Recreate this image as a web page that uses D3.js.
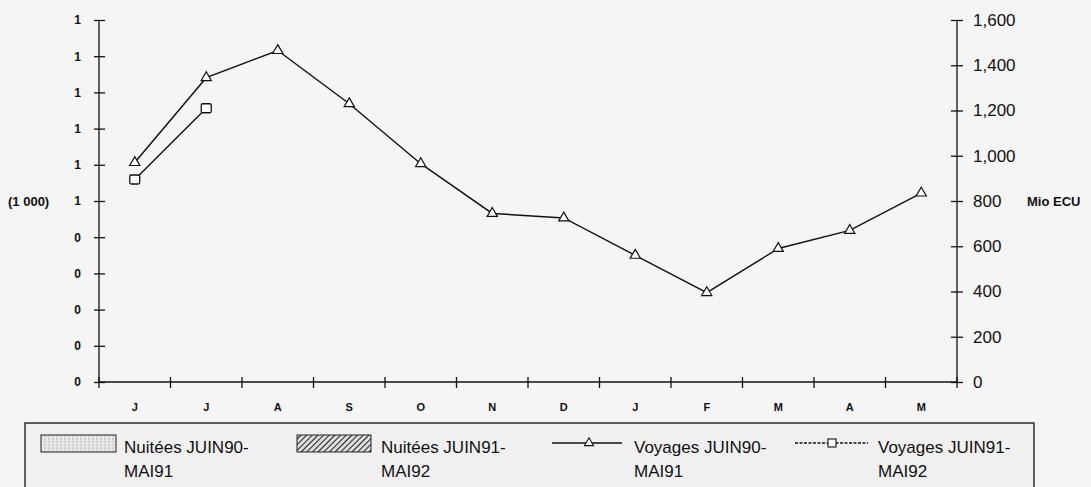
<!DOCTYPE html>
<html>
<head>
<meta charset="utf-8">
<script src="https://cdn.jsdelivr.net/npm/d3@7"></script>
<style>
  body { margin: 0; background: #f5f5f5; }
  svg { display: block; font-family: "Liberation Sans", Arial, sans-serif; }
  .axis path, .axis line { stroke: #111; stroke-width: 1.3; }
  .small { font-weight: bold; fill: #111; }
</style>
</head>
<body>
<script>
// Months (JUIN -> MAI)
var months = ["J", "J", "A", "S", "O", "N", "D", "J", "F", "M", "A", "M"];

// Voyages, Mio ECU (right axis)
var voyages9091 = [970, 1345, 1465, 1230, 965, 745, 725, 560, 395, 590, 670, 835];
var voyages9192 = [895, 1210];

// Left axis ticks (1 000) - labels are rounded to integers
var leftTicks = [0, 0.1, 0.2, 0.3, 0.4, 0.5, 0.6, 0.7, 0.8, 0.9, 1.0];
var rightTicks = [0, 200, 400, 600, 800, 1000, 1200, 1400, 1600];

var legendLabels = [
  ["Nuitées JUIN90-", "MAI91"],
  ["Nuitées JUIN91-", "MAI92"],
  ["Voyages JUIN90-", "MAI91"],
  ["Voyages JUIN91-", "MAI92"]
];

var W = 1091, H = 487;
var margin = {top: 20, right: 134, bottom: 105, left: 99},
    width = W - margin.left - margin.right,
    height = H - margin.top - margin.bottom;

var svg = d3.select("body").append("svg")
    .attr("width", W)
    .attr("height", H);

// pattern defs for the Nuitées swatches
var defs = svg.append("defs");
var dots = defs.append("pattern").attr("id", "dots")
    .attr("width", 4).attr("height", 3).attr("patternUnits", "userSpaceOnUse");
dots.append("rect").attr("width", 4).attr("height", 3).attr("fill", "#e8e8e8");
dots.append("circle").attr("cx", 1).attr("cy", 1).attr("r", 0.6).attr("fill", "#777");
var hatch = defs.append("pattern").attr("id", "hatch")
    .attr("width", 4).attr("height", 4).attr("patternUnits", "userSpaceOnUse")
    .attr("patternTransform", "rotate(45)");
hatch.append("rect").attr("width", 4).attr("height", 4).attr("fill", "#ddd");
hatch.append("line").attr("x1", 0).attr("y1", 0).attr("x2", 0).attr("y2", 4)
    .attr("stroke", "#222").attr("stroke-width", 2);

var g = svg.append("g")
    .attr("transform", "translate(" + margin.left + "," + margin.top + ")");

// Scales
var x = d3.scaleBand().domain(d3.range(months.length)).range([0, width]);
var yLeft = d3.scaleLinear().domain([0, 1.0]).range([height, 0]);
var yRight = d3.scaleLinear().domain([0, 1600]).range([height, 0]);

// Axes
var leftAxis = d3.axisLeft(yLeft)
    .tickValues(leftTicks)
    .tickSize(0)
    .tickPadding(18)
    .tickFormat(function(d) { return Math.round(d + 1e-9); });

var rightAxis = d3.axisRight(yRight)
    .tickValues(rightTicks)
    .tickSize(0)
    .tickPadding(16)
    .tickFormat(d3.format(","));

var xAxis = d3.axisBottom(x)
    .tickSize(0)
    .tickPadding(21)
    .tickFormat(function(i) { return months[i]; });

var gl = g.append("g").attr("class", "axis").call(leftAxis);
gl.select(".domain").attr("d", "M0," + height + "V0");
gl.selectAll(".tick text").attr("class", "small").style("font-size", "12px");
gl.selectAll(".tick").append("line").attr("x1", -5).attr("x2", 6);

var gr = g.append("g").attr("class", "axis")
    .attr("transform", "translate(" + width + ",0)").call(rightAxis);
gr.select(".domain").attr("d", "M0," + height + "V0");
gr.selectAll(".tick text").style("font-size", "17px").attr("fill", "#111");
gr.selectAll(".tick").append("line").attr("x1", -6).attr("x2", 6);

var gx = g.append("g").attr("class", "axis")
    .attr("transform", "translate(0," + height + ")").call(xAxis);
gx.select(".domain").attr("d", "M0,0H" + width);
gx.selectAll(".tick text").attr("class", "small").style("font-size", "11px");
// boundary ticks between months
gx.selectAll(".bound").data(d3.range(months.length + 1)).enter()
    .append("line").attr("class", "bound")
    .attr("x1", function(i) { return i * x.step(); })
    .attr("x2", function(i) { return i * x.step(); })
    .attr("y1", -5).attr("y2", 6)
    .attr("stroke", "#111").attr("stroke-width", 1.3);

// Axis titles
svg.append("text").attr("class", "small").style("font-size", "13px")
    .attr("x", 8).attr("y", yLeft(0.5) + margin.top + 4.5).text("(1 000)");
svg.append("text").attr("class", "small").style("font-size", "13px")
    .attr("x", 1027).attr("y", yRight(800) + margin.top + 4.5).text("Mio ECU");

// Lines
var line = d3.line()
    .x(function(d, i) { return x(i) + x.bandwidth() / 2; })
    .y(function(d) { return yRight(d); });

g.append("path").datum(voyages9091)
    .attr("fill", "none").attr("stroke", "#111").attr("stroke-width", 1.4)
    .attr("d", line);
g.append("path").datum(voyages9192)
    .attr("fill", "none").attr("stroke", "#111").attr("stroke-width", 1.4)
    .attr("d", line);

var tri = d3.symbol().type(d3.symbolTriangle).size(45);
g.selectAll(".tri").data(voyages9091).enter().append("path")
    .attr("class", "tri")
    .attr("transform", function(d, i) {
      return "translate(" + (x(i) + x.bandwidth() / 2) + "," + yRight(d) + ")";
    })
    .attr("d", tri)
    .attr("fill", "#fff").attr("stroke", "#111").attr("stroke-width", 1.2);

g.selectAll(".sq").data(voyages9192).enter().append("rect")
    .attr("class", "sq")
    .attr("x", function(d, i) { return x(i) + x.bandwidth() / 2 - 5; })
    .attr("y", function(d) { return yRight(d) - 4.5; })
    .attr("width", 10).attr("height", 9).attr("rx", 1.5)
    .attr("fill", "#fff").attr("stroke", "#111").attr("stroke-width", 1.3);

// Legend
var lg = svg.append("g");
lg.append("rect").attr("x", 25).attr("y", 423).attr("width", 1009).attr("height", 80)
    .attr("fill", "#f0f0f0").attr("stroke", "#111").attr("stroke-width", 1.3);

var legX = [41, 297, 552, 795];
var textX = [124, 381, 634, 878];

lg.append("rect").attr("x", legX[0]).attr("y", 435).attr("width", 75).attr("height", 17)
    .attr("fill", "url(#dots)").attr("stroke", "#222").attr("stroke-width", 1);
lg.append("rect").attr("x", legX[1]).attr("y", 435).attr("width", 74).attr("height", 17)
    .attr("fill", "url(#hatch)").attr("stroke", "#222").attr("stroke-width", 1);

lg.append("line").attr("x1", legX[2]).attr("x2", legX[2] + 70).attr("y1", 443).attr("y2", 443)
    .attr("stroke", "#111").attr("stroke-width", 1.4);
lg.append("path").attr("transform", "translate(" + (legX[2] + 37) + ",443)")
    .attr("d", d3.symbol().type(d3.symbolTriangle).size(35))
    .attr("fill", "#fff").attr("stroke", "#111").attr("stroke-width", 1.1);

lg.append("line").attr("x1", legX[3]).attr("x2", legX[3] + 73).attr("y1", 443).attr("y2", 443)
    .attr("stroke", "#111").attr("stroke-width", 1.4).attr("stroke-dasharray", "3,1.5");
lg.append("rect").attr("x", legX[3] + 33).attr("y", 439).attr("width", 8).attr("height", 8)
    .attr("fill", "#fff").attr("stroke", "#111").attr("stroke-width", 1.1);

legendLabels.forEach(function(lab, i) {
  var t = lg.append("text").attr("x", textX[i]).attr("y", 453)
      .style("font-size", "17px").attr("fill", "#111");
  t.append("tspan").attr("x", textX[i]).text(lab[0]);
  t.append("tspan").attr("x", textX[i]).attr("dy", 24).text(lab[1]);
});
</script>
</body>
</html>
